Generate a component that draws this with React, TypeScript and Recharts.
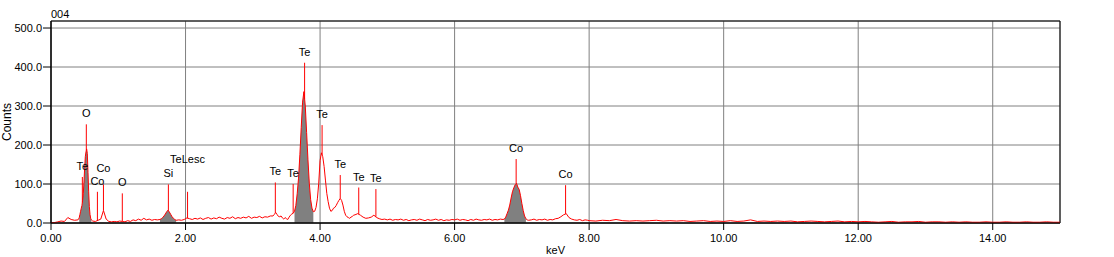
import { Area, CartesianGrid, ComposedChart, Label, Line, ReferenceArea, ReferenceLine, XAxis, YAxis } from 'recharts';

const xTicks = [0, 2, 4, 6, 8, 10, 12, 14];
const yTicks = [0, 100, 200, 300, 400, 500];

// spectrum counts
const lowCounts = [0, 1, 3, 5, 4, 14, 9, 7];
const oxygenPeak = [8, 10, 14, 22, 30, 38, 45, 58, 75, 105, 140, 170, 182, 190, 178, 130, 80, 42, 22, 12, 8];
const cobaltLBand = [5, 4, 7, 10, 32, 10, 4, 3, 4, 3, 5, 4, 3, 6, 4, 8, 6, 10, 7, 12, 8, 10, 7, 9, 8];
const siliconPeak = [9, 11, 14, 18, 23, 29, 33, 28, 22, 16, 12, 9, 7];
const midBand = [
  8, 7, 9, 13, 11, 9, 12, 10, 13, 9, 12, 14, 10, 13, 11, 15, 12, 10, 14, 12, 16, 11, 14, 12, 15, 13, 17, 12, 15, 14, 17,
  13, 16, 15, 18,
];
const telluriumBand = [
  18, 22, 27, 22, 17, 16, 18, 13, 10, 14, 11, 9, 15, 20, 23, 25, 30, 45, 75, 115, 175, 245, 310, 337, 300, 232, 162, 102,
  60, 38, 29, 30, 40, 62, 102, 160, 180, 170, 145, 110, 76, 55, 38, 30, 32, 38, 40, 45, 52, 58, 63, 58, 46, 30, 20, 16, 14,
  12, 15, 17, 20,
];
const tailBand = [
  21, 24, 20, 15, 12, 13, 15, 20, 14, 11, 9, 10, 8, 10, 7, 9, 8, 10, 7, 9, 6, 8, 9, 7, 10, 8, 6, 9, 7, 8, 10, 7, 9, 6, 8, 7,
  9, 8, 10, 7, 9, 8, 6, 9, 7, 10, 8, 7, 9, 8, 10, 7, 9, 8, 10,
];
const cobaltKa = [9, 10, 15, 24, 33, 46, 64, 80, 90, 98, 102, 92, 86, 70, 50, 32, 18, 11, 8, 7];
const cobaltKb = [8, 10, 7, 9, 8, 10, 7, 9, 8, 11, 12, 16, 21, 24, 14, 10, 8, 7, 9, 6, 8, 7];
const highBand = [
  6, 5, 7, 6, 9, 6, 5, 6, 5, 6, 7, 5, 6, 5, 6, 4, 5, 6, 4, 5, 4, 6, 4, 5, 8, 4, 5, 4, 5, 4, 5, 3, 4, 5, 4, 3, 4, 5, 3, 4,
  3, 4, 3, 2, 3, 4, 2, 3, 3, 4, 2, 3, 3, 2, 3, 2, 3, 2, 2, 3, 2, 2, 3, 2, 2, 3, 2, 2, 3, 2, 2,
];

// start energy (keV) and channel step of each band
const bands = [
  { from: 0, step: 0.05, counts: lowCounts },
  { from: 0.4, step: 0.01, counts: oxygenPeak },
  { from: 0.62, step: 0.04, counts: cobaltLBand },
  { from: 1.62, step: 0.02, counts: siliconPeak },
  { from: 1.9, step: 0.04, counts: midBand },
  { from: 3.3, step: 0.02, counts: telluriumBand },
  { from: 4.52, step: 0.04, counts: tailBand },
  { from: 6.72, step: 0.02, counts: cobaltKa },
  { from: 7.14, step: 0.04, counts: cobaltKb },
  { from: 8, step: 0.1, counts: highBand },
];

// shaded peak regions (keV)
const roiRanges: [number, number][] = [
  [0.42, 0.6],
  [1.62, 1.86],
  [3.62, 3.9],
  [6.74, 7.06],
];

// KLM markers: energy, marker top (counts), label
const markers = [
  { e: 0.466, top: 118, name: 'Te' },
  { e: 0.525, top: 253, name: 'O' },
  { e: 0.69, top: 80, name: 'Co' },
  { e: 0.78, top: 99, name: 'Co' },
  { e: 1.06, top: 76, name: 'O' },
  { e: 1.745, top: 99, name: 'Si' },
  { e: 2.03, top: 80, name: 'TeLesc' },
  { e: 3.335, top: 104, name: 'Te' },
  { e: 3.6, top: 100, name: 'Te' },
  { e: 3.77, top: 411, name: 'Te' },
  { e: 4.03, top: 251, name: 'Te' },
  { e: 4.3, top: 123, name: 'Te' },
  { e: 4.575, top: 91, name: 'Te' },
  { e: 4.83, top: 87, name: 'Te' },
  { e: 6.915, top: 164, name: 'Co' },
  { e: 7.65, top: 97, name: 'Co' },
];
const labelOffset: Record<number, number> = { 3: 12, 6: 29 };

const spectrum = bands.flatMap(b => b.counts.map((c, i) => ({ e: +(b.from + i * b.step).toFixed(3), counts: c })));

const data = spectrum.map(p => ({
  ...p,
  roi: roiRanges.some(([a, b]) => p.e >= a - 1e-6 && p.e <= b + 1e-6) ? p.counts : null,
}));

const countsAt = (e: number) => {
  for (let i = 0; i < spectrum.length - 1; i++) {
    const a = spectrum[i];
    const b = spectrum[i + 1];
    if (e >= a.e && e <= b.e) return a.counts + ((b.counts - a.counts) * (e - a.e)) / (b.e - a.e);
  }
  return 0;
};

const App = () => (
  <div
    style={{
      position: 'absolute',
      left: 0,
      top: 0,
      width: 1114,
      height: 257,
      background: '#fff',
      fontFamily: '"Liberation Sans", Arial, sans-serif',
    }}
  >
    <div style={{ position: 'absolute', left: 51, top: 8, fontSize: 11, color: '#000' }}>004</div>
    <ComposedChart width={1114} height={257} data={data} margin={{ top: 21, right: 54, bottom: 0, left: 0 }}>
      <CartesianGrid stroke='#808080' />
      <XAxis
        type='number'
        dataKey='e'
        domain={[0, 15]}
        ticks={xTicks}
        interval={0}
        allowDataOverflow
        tickFormatter={(v: number) => v.toFixed(2)}
        height={34}
        stroke='#000'
        tick={{ fill: '#000', fontSize: 11 }}
        tickSize={7}
        tickMargin={4}
      >
        <Label value='keV' position='insideBottom' offset={3} fill='#000' fontSize={11} />
      </XAxis>
      <YAxis
        type='number'
        domain={[0, 518]}
        ticks={yTicks}
        interval={0}
        allowDataOverflow
        tickFormatter={(v: number) => v.toFixed(1)}
        width={51}
        stroke='#000'
        tick={{ fill: '#000', fontSize: 11 }}
        tickSize={8}
        tickMargin={1}
      >
        <Label value='Counts' angle={-90} position='insideLeft' offset={7} style={{ textAnchor: 'middle' }} fill='#000' fontSize={12} />
      </YAxis>

      <Area
        dataKey='roi'
        type='linear'
        stroke='none'
        fill='#808080'
        fillOpacity={1}
        dot={false}
        activeDot={false}
        isAnimationActive={false}
      />
      <Line dataKey='counts' type='linear' stroke='#ff0000' strokeWidth={1} dot={false} activeDot={false} isAnimationActive={false} />

      {markers.map((m, i) => (
        <ReferenceLine
          key={i}
          segment={[
            { x: m.e, y: countsAt(m.e) },
            { x: m.e, y: m.top },
          ]}
          stroke='#ff0000'
          label={{ value: m.name, position: 'top', offset: labelOffset[i] ?? 7, fill: '#000', fontSize: 11 }}
        />
      ))}

      <ReferenceArea x1={0} x2={15} y1={0} y2={518} fill='none' stroke='#000' />
    </ComposedChart>
  </div>
);

export default App;
